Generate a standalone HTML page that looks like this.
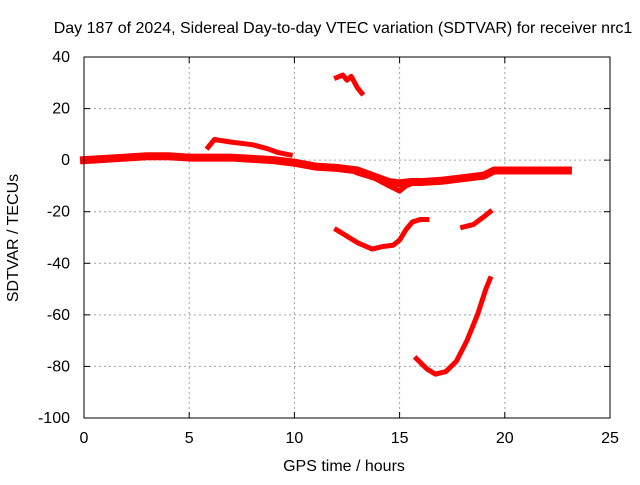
<!DOCTYPE html>
<html><head><meta charset="utf-8"><style>
body{margin:0;background:#fff;}
svg{font-family:"Liberation Sans",sans-serif;}
</style></head><body>
<svg id="chart" width="640" height="480">
<text x="343" y="33" font-size="16" text-anchor="middle">Day 187 of 2024, Sidereal Day-to-day VTEC variation (SDTVAR) for receiver nrc1</text>
<g id="grid"></g><g id="ticks"></g><g id="series"></g>
<rect x="84" y="57" width="526" height="361" fill="none" stroke="#000" stroke-width="1"/>
<text x="344" y="471" font-size="16" text-anchor="middle">GPS time / hours</text>
<text x="18" y="238" font-size="16" text-anchor="middle" transform="rotate(-90 18 238)">SDTVAR / TECUs</text>
</svg>
<script>
const xTicks=[0,5,10,15,20,25];
const yTicks=[40,20,0,-20,-40,-60,-80,-100];
const mainX=[0,1,2,3,4,5,6,7,8,9,10,11,12,13,13.5,14,14.5,15,15.5,16,17,18,19,19.5,20,21,22,23];
const mainY=[0,0.5,1,1.5,1.5,1,1,1,0.5,0,-1,-2.5,-3,-4,-5.5,-7,-8.5,-9,-8.5,-8.5,-8,-7,-6,-4,-4,-4,-4,-4];
const lowX=[13,13.8,14.5,15,15.3,15.6];
const lowY=[-5,-7,-10,-12,-10,-9];
const upX=[5.9,6.2,7,8,8.7,9.2,9.8];
const upY=[5,8,7,6,4.5,3,2];
const topX=[12,12.3,12.5,12.7,13,13.2];
const topY=[32,33,31,32.5,28,26];
const midX=[12,12.5,13,13.7,14.2,14.7,15,15.3,15.6,16,16.3];
const midY=[-27,-29.5,-32,-34.5,-33.5,-33,-31,-27,-24,-23,-23];
const shortX=[18,18.5,19,19.3];
const shortY=[-26,-25,-22,-20];
const bigX=[15.8,16.3,16.7,17.2,17.7,18.2,18.7,19.1,19.3];
const bigY=[-77,-81,-83,-82,-78,-70,-60,-50,-46];
const X0=84,X1=610,Y0=418,Y1=57;
const sx=v=>X0+(v-0)/25*(X1-X0);
const sy=v=>Y0-(v+100)/140*(Y0-Y1);
const NS="http://www.w3.org/2000/svg";
const grid=document.getElementById('grid'),ticks=document.getElementById('ticks'),ser=document.getElementById('series');
function mk(t,a,p){const e=document.createElementNS(NS,t);for(const k in a)e.setAttribute(k,a[k]);p.appendChild(e);return e;}
xTicks.forEach(v=>{const x=sx(v);
 if(v>0&&v<25){const g=mk('line',{x1:x,x2:x,y1:Y1,y2:Y0,stroke:'#a0a0a0','stroke-dasharray':'2,3'},grid);
 
 }
 mk('line',{x1:x,x2:x,y1:Y0,y2:Y0-6,stroke:'#000'},ticks);mk('line',{x1:x,x2:x,y1:Y1,y2:Y1+6,stroke:'#000'},ticks);
 const t=mk('text',{x:x,y:443,'font-size':16,'text-anchor':'middle'},ticks);t.textContent=v;
 
 });
yTicks.forEach(v=>{const y=sy(v);
 if(v>-100&&v<40){const g=mk('line',{x1:X0,x2:X1,y1:y,y2:y,stroke:'#a0a0a0','stroke-dasharray':'2,3'},grid);
 
 }
 mk('line',{x1:X0,x2:X0+6,y1:y,y2:y,stroke:'#000'},ticks);mk('line',{x1:X1,x2:X1-6,y1:y,y2:y,stroke:'#000'},ticks);
 const t=mk('text',{x:X0-14,y:y+5,'font-size':16,'text-anchor':'end'},ticks);t.textContent=v;
 
 });
function draw(xs,ys,w,name){const pts=xs.map((x,i)=>sx(x)+','+sy(ys[i])).join(' ');
 const p=mk('polyline',{points:pts,fill:'none',stroke:'#ff0000','stroke-width':w,'stroke-linejoin':'round','stroke-linecap':'square'},ser);
 
 }
draw(mainX,mainY,8,'series-main-band');
draw(lowX,lowY,5,'series-lower-branch');
draw(upX,upY,5,'series-upper-branch');
draw(topX,topY,5,'series-top-segment');
draw(midX,midY,5,'series-mid-arc');
draw(shortX,shortY,5,'series-short-segment');
draw(bigX,bigY,5,'series-deep-arc');
</script>
</body></html>
